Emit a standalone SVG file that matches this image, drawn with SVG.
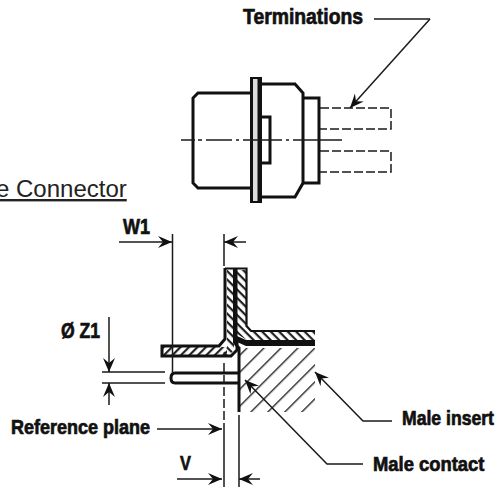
<svg xmlns="http://www.w3.org/2000/svg" width="499" height="489" viewBox="0 0 499 489">
<style>
.b{font-family:"Liberation Sans",Arial,sans-serif;font-weight:700;fill:#111;stroke:#111;stroke-width:.7}
.k{fill:none;stroke:#111;stroke-width:3}
.m{fill:none;stroke:#111;stroke-width:2.2}
.t{fill:none;stroke:#1a1a1a;stroke-width:1.5}
.d{fill:none;stroke:#1a1a1a;stroke-width:1.5;stroke-dasharray:9 3}
</style>
<defs>
<marker id="a" markerWidth="15" markerHeight="14" refX="14" refY="7" orient="auto" markerUnits="userSpaceOnUse"><path d="M0 1 L14 7 L0 13 L5 7Z" fill="#111"/></marker>
<pattern id="h1" width="6" height="6" patternUnits="userSpaceOnUse" patternTransform="rotate(-45)"><rect width="6" height="2.200" fill="#222"/></pattern>
<pattern id="h2" width="6" height="6" patternUnits="userSpaceOnUse" patternTransform="rotate(45)"><rect width="6" height="2.200" fill="#222"/></pattern>
<pattern id="h3" width="12" height="12" patternUnits="userSpaceOnUse" patternTransform="rotate(-45)"><rect width="12" height="1.400" fill="#222"/></pattern>
</defs>
<rect width="499" height="489" fill="#fff"/>
<g id="connector-top">
<path class="k" d="M250 93H198L193 98V183L198 188H250"/>
<rect x="250" y="77" width="12" height="126" fill="#111"/>
<rect x="253" y="79" width="4.500" height="122" fill="#ddd"/>
<path class="k" d="M262 84H295L303 93V183L295 197H262"/>
<path class="k" d="M303 98H319V183H303"/>
<path class="k" d="M262 117H270V163H262"/>
</g>
<g id="section">
<path d="M240 348H315V412H240Z" fill="url(#h3)"/>
<path d="M163 347H227V355H163Z" fill="url(#h1)"/>
<path d="M227 270H234V350L229 355H222L227 347Z" fill="url(#h2)"/>
<path d="M237 270H246V328L251 332H315V340H247L237 334Z" fill="url(#h2)"/>
<path class="k" d="M225 268V339L219 346H162V356H231L237 350V342"/>
<path d="M233 269H237.500V344L240 347H236L233 343Z" fill="#111"/>
<path class="m" d="M225 268.500H246.500V326L251 331H315"/>
<path d="M237 336L246 340H315V346H246L237 342Z" fill="#111"/>
<path d="M239 347V412" class="k"/>
<path class="k" d="M238 373H175Q171 373 171 378Q171 383 175 383H238"/>
</g>
<g id="connectors">
<path class="d" d="M320 108H391V129H320M320 151H391V172H320"/>
<path class="t" d="M181 140H195M198 140H202M206 140H232M236 140H239M243 140H282M286 140H289M293 140H342"/>
<path class="t" d="M374 19H430"/>
<path class="t" d="M430 19L350 108" marker-end="url(#a)"/>
<path class="t" d="M119 242H172" marker-end="url(#a)"/>
<path class="t" d="M246 242H224" marker-end="url(#a)"/>
<path class="t" d="M172.500 234V373M224 234V266"/>
<path class="d" d="M224 363V431" stroke-dasharray="7 4"/>
<path class="t" d="M224 431V487M239 415V487"/>
<path class="t" d="M102 372H165M102 383H165"/>
<path class="t" d="M109 317V372" marker-end="url(#a)"/>
<path class="t" d="M109 405V383" marker-end="url(#a)"/>
<path d="M363 421L315 372" fill="none" stroke="#fff" stroke-width="5"/>
<path class="t" d="M392 421H363L315 372" marker-end="url(#a)"/>
<path class="t" d="M363 464H327L245 380" marker-end="url(#a)"/>
<path class="t" d="M157 429H222" marker-end="url(#a)"/>
<path class="t" d="M177 479H222" marker-end="url(#a)"/>
<path class="t" d="M260 479H239" marker-end="url(#a)"/>
</g>
<g id="labels">
<text class="b" transform="translate(243 24) scale(.88 1)" font-size="22">Terminations</text>
<text x="-4" y="197" font-family="Liberation Sans,Arial,sans-serif" font-size="24" fill="#222" text-decoration="underline">e Connector</text>
<text class="b" transform="translate(123 234) scale(.82 1)" font-size="22">W1</text>
<text class="b" transform="translate(61 338) scale(.8 1)" font-size="22">Ø Z1</text>
<text class="b" transform="translate(11 434) scale(.9 1)" font-size="20">Reference plane</text>
<text class="b" transform="translate(402 425) scale(.88 1)" font-size="20">Male insert</text>
<text class="b" transform="translate(373 471) scale(.92 1)" font-size="20">Male contact</text>
<text class="b" transform="translate(180 470) scale(.82 1)" font-size="20">V</text>
</g>
</svg>
